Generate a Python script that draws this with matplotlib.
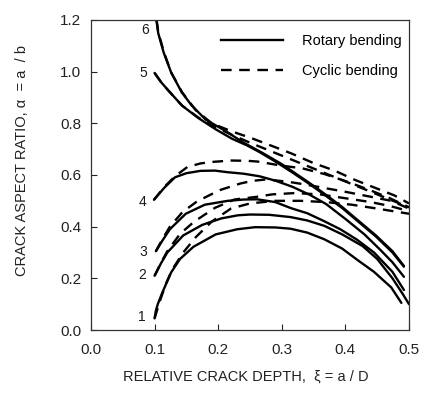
import matplotlib
matplotlib.use("Agg")
import matplotlib.pyplot as plt
from matplotlib.lines import Line2D

plt.rcParams['font.family'] = ['Liberation Sans', 'DejaVu Sans']

# ---- data ----
s1_x = [0.100, 0.102, 0.105, 0.112, 0.126, 0.140, 0.161, 0.196, 0.230, 0.258, 0.290, 0.314, 0.340, 0.367, 0.395, 0.419, 0.445, 0.472, 0.488]
s1_y = [0.045, 0.075, 0.100, 0.144, 0.223, 0.275, 0.322, 0.370, 0.390, 0.398, 0.397, 0.392, 0.377, 0.351, 0.315, 0.271, 0.225, 0.165, 0.105]

s2_x = [0.100, 0.110, 0.120, 0.145, 0.175, 0.205, 0.231, 0.250, 0.280, 0.314, 0.340, 0.367, 0.395, 0.427, 0.450, 0.474, 0.490, 0.500]
s2_y = [0.210, 0.258, 0.300, 0.366, 0.407, 0.432, 0.444, 0.447, 0.446, 0.437, 0.424, 0.403, 0.370, 0.325, 0.275, 0.200, 0.140, 0.100]

s3_x = [0.102, 0.112, 0.124, 0.149, 0.179, 0.215, 0.240, 0.261, 0.290, 0.314, 0.340, 0.366, 0.392, 0.418, 0.445, 0.474, 0.492]
s3_y = [0.305, 0.345, 0.390, 0.450, 0.485, 0.500, 0.505, 0.506, 0.495, 0.472, 0.452, 0.422, 0.390, 0.350, 0.300, 0.225, 0.155]

s4_x = [0.099, 0.115, 0.132, 0.150, 0.172, 0.195, 0.214, 0.240, 0.265, 0.290, 0.317, 0.345, 0.370, 0.400, 0.430, 0.455, 0.474, 0.492]
s4_y = [0.504, 0.550, 0.591, 0.607, 0.616, 0.617, 0.611, 0.605, 0.595, 0.578, 0.554, 0.522, 0.487, 0.430, 0.370, 0.310, 0.262, 0.206]

s5_x = [0.100, 0.110, 0.122, 0.143, 0.169, 0.196, 0.222, 0.245, 0.264, 0.290, 0.3165, 0.343, 0.369, 0.395, 0.420, 0.448, 0.474, 0.492]
s5_y = [0.995, 0.960, 0.926, 0.869, 0.820, 0.777, 0.740, 0.715, 0.690, 0.652, 0.610, 0.566, 0.520, 0.472, 0.420, 0.362, 0.300, 0.245]

s6_x = [0.103, 0.1056, 0.1144, 0.126, 0.1424, 0.158, 0.180, 0.211, 0.240, 0.270, 0.300, 0.343, 0.369, 0.395, 0.420, 0.448, 0.474, 0.492]
s6_y = [1.200, 1.150, 1.073, 0.997, 0.921, 0.870, 0.815, 0.771, 0.725, 0.685, 0.642, 0.570, 0.524, 0.476, 0.424, 0.366, 0.305, 0.248]

d1_x = [0.100, 0.108, 0.118, 0.128, 0.145, 0.165, 0.190, 0.220, 0.250, 0.290, 0.330, 0.370, 0.410, 0.450, 0.500]
d1_y = [0.045, 0.110, 0.180, 0.235, 0.300, 0.360, 0.420, 0.470, 0.490, 0.500, 0.500, 0.495, 0.485, 0.470, 0.450]

d2_x = [0.100, 0.110, 0.120, 0.140, 0.162, 0.195, 0.2253, 0.259, 0.285, 0.320, 0.360, 0.400, 0.440, 0.470, 0.500]
d2_y = [0.210, 0.260, 0.305, 0.372, 0.419, 0.473, 0.505, 0.515, 0.525, 0.530, 0.525, 0.510, 0.495, 0.480, 0.460]

d3_x = [0.102, 0.112, 0.124, 0.1437, 0.1663, 0.2018, 0.2348, 0.253, 0.276, 0.312, 0.340, 0.364, 0.400, 0.431, 0.472, 0.500]
d3_y = [0.305, 0.350, 0.400, 0.456, 0.497, 0.541, 0.567, 0.577, 0.583, 0.573, 0.562, 0.551, 0.535, 0.520, 0.500, 0.470]

d4_x = [0.099, 0.115, 0.132, 0.1515, 0.1725, 0.1925, 0.2207, 0.245, 0.262, 0.300, 0.332, 0.368, 0.404, 0.440, 0.470, 0.500]
d4_y = [0.504, 0.553, 0.595, 0.631, 0.645, 0.651, 0.656, 0.655, 0.652, 0.636, 0.626, 0.603, 0.573, 0.540, 0.510, 0.475]

d5_x = [0.100, 0.110, 0.122, 0.143, 0.169, 0.196, 0.222, 0.250, 0.280, 0.310, 0.340, 0.370, 0.400, 0.430, 0.460, 0.480, 0.500]
d5_y = [0.995, 0.960, 0.926, 0.869, 0.822, 0.785, 0.755, 0.725, 0.695, 0.665, 0.635, 0.605, 0.575, 0.545, 0.515, 0.495, 0.475]

d6_x = [0.103, 0.106, 0.115, 0.126, 0.143, 0.165, 0.190, 0.220, 0.253, 0.285, 0.3155, 0.349, 0.383, 0.415, 0.446, 0.477, 0.500]
d6_y = [1.200, 1.150, 1.073, 0.997, 0.921, 0.850, 0.800, 0.770, 0.742, 0.712, 0.683, 0.647, 0.617, 0.581, 0.551, 0.521, 0.490]

curve_labels = ['1', '2', '3', '4', '5', '6']
label_x = [0.080, 0.080, 0.082, 0.081, 0.082, 0.085]
label_y = [0.052, 0.213, 0.303, 0.497, 0.994, 1.160]

x_ticks = [0.0, 0.1, 0.2, 0.3, 0.4, 0.5]
y_ticks = [0.0, 0.2, 0.4, 0.6, 0.8, 1.0, 1.2]

solid = [(s1_x, s1_y), (s2_x, s2_y), (s3_x, s3_y), (s4_x, s4_y), (s5_x, s5_y), (s6_x, s6_y)]
dashed = [(d1_x, d1_y), (d2_x, d2_y), (d3_x, d3_y), (d4_x, d4_y), (d5_x, d5_y), (d6_x, d6_y)]

# ---- figure ----
fig = plt.figure(figsize=(4.23, 4.01), dpi=100)
ax = fig.add_axes([91 / 423, 71 / 401, 318 / 423, 310 / 401])

LW = 1.7
DASH = (0, (4.5, 3.2))
for xs, ys in dashed:
    ax.plot(xs, ys, color='black', lw=LW, linestyle=DASH, solid_capstyle='butt')
for xs, ys in solid:
    ax.plot(xs, ys, color='black', lw=LW, solid_capstyle='round', solid_joinstyle='round')

for t, lx, ly in zip(curve_labels, label_x, label_y):
    ax.text(lx, ly, t, fontsize=10, ha='center', va='center', color='#1a1a1a')

ax.set_xlim(0.0, 0.5)
ax.set_ylim(0.0, 1.2)
ax.set_xticks(x_ticks)
ax.set_yticks(y_ticks)
ax.set_xticklabels([f"{v:.1f}" for v in x_ticks])
ax.set_yticklabels([f"{v:.1f}" for v in y_ticks])
ax.tick_params(direction='in', length=4, width=0.8, labelsize=11, colors='#222222', pad=7)
ax.tick_params(axis='x', pad=9)
for sp in ax.spines.values():
    sp.set_linewidth(0.9)
    sp.set_color('#333333')

handles = [Line2D([], [], color='black', lw=LW),
           Line2D([], [], color='black', lw=LW, linestyle=DASH)]
ax.legend(handles, ['Rotary bending', 'Cyclic bending'], loc='upper left',
          bbox_to_anchor=(0.41, 0.955), frameon=False, fontsize=10.5,
          handlelength=4.2, handletextpad=1.3, labelspacing=1.1,
          borderpad=0, borderaxespad=0)

fig.text(246 / 423, 1 - 377 / 401, 'RELATIVE CRACK DEPTH,  \u03be = a / D',
         ha='center', va='center', fontsize=10.5, color='#222222')
fig.text(22 / 423, 1 - 160 / 401, 'CRACK ASPECT RATIO, \u03b1  = a  / b',
         ha='center', va='center', rotation=90, fontsize=10.5, color='#222222')

fig.savefig('out.png', dpi=100, facecolor='white')
